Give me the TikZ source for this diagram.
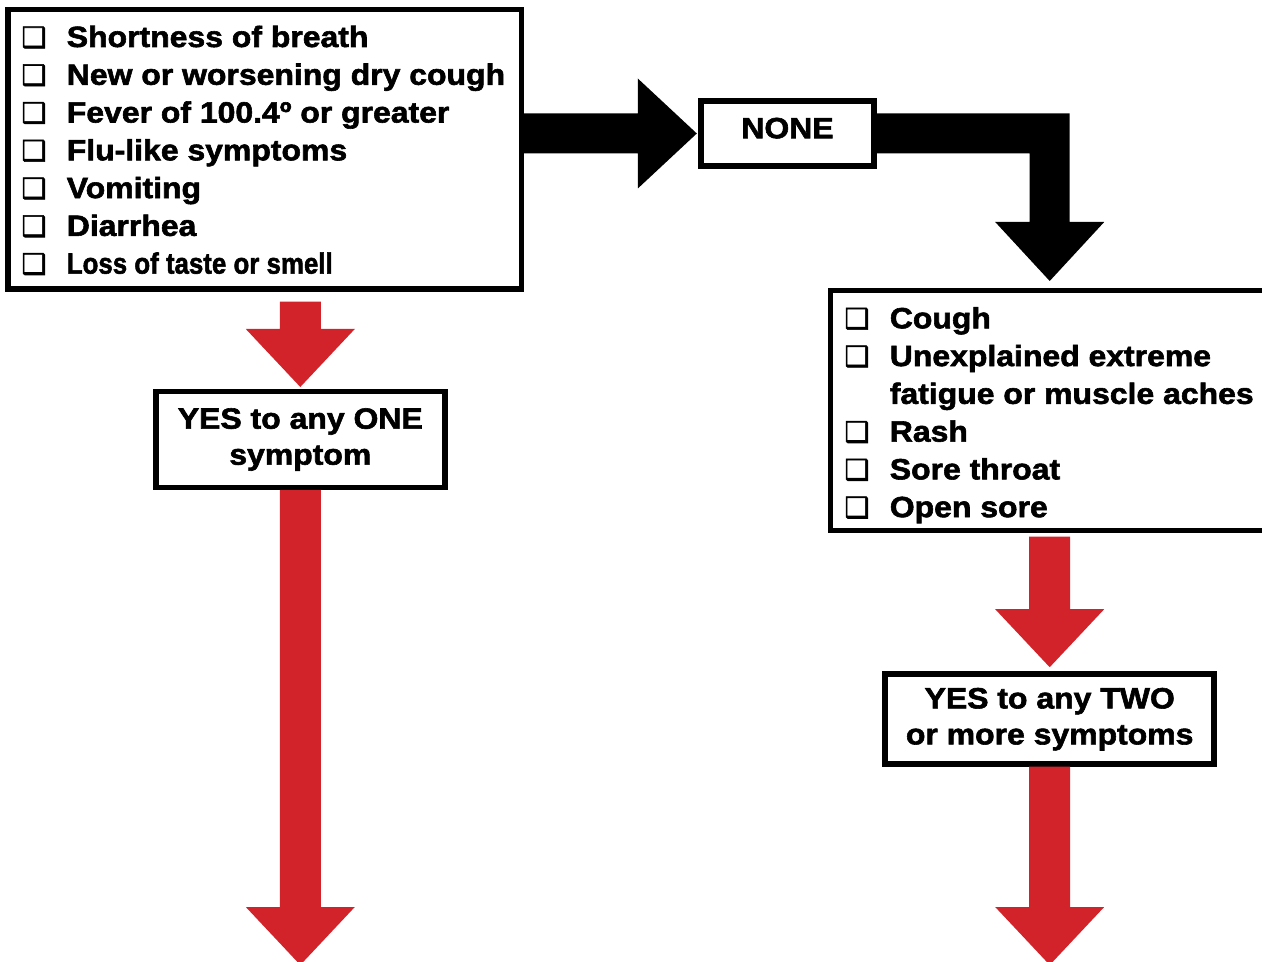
\documentclass[tikz,border=0pt]{standalone}
\usepackage{graphicx}
\usepackage{fontspec}
\setmainfont{Liberation Sans}[FakeStretch=1.09, BoldFont={Liberation Sans Bold}, BoldFeatures={FakeBold=2}]
\newfontfamily\dingfont{DejaVu Sans Bold}[FakeBold=2]
\usetikzlibrary{calc}

\definecolor{yesred}{RGB}{210,35,42}
\newcommand{\cbox}{\makebox[21.7pt][l]{\hspace*{-1pt}\dingfont\fontsize{14}{14}\selectfont ❑}}
\newcommand{\blankbox}{\makebox[21.7pt][l]{}}

\tikzset{
  frame/.style={draw, line width=2.75pt, inner sep=0pt, outer sep=0pt},
  item/.style={anchor=base west, inner sep=0pt, font=\bfseries\fontsize{14.65}{18}\selectfont},
  answer/.style={frame, align=center, font=\bfseries\fontsize{14.65}{18}\selectfont},
}

\begin{document}
\begin{tikzpicture}[x=0.5pt,y=-0.5pt]
  \useasboundingbox (0,0) rectangle (1262,962);
  \clip (0,0) rectangle (1262,962);
  % boxes
  \node[frame, minimum width=256.75pt, minimum height=139.75pt] (main) at (264.5,149.5) {};
  \node[answer, minimum width=86.7pt, minimum height=32.7pt, text depth=5.5pt] (none) at (787.5,133.5) {NONE};
  \node[frame, anchor=north west, minimum width=222pt, minimum height=119.9pt] (more) at (830.5,290.75) {};
  \node[answer, minimum width=144.5pt, minimum height=48pt] (one) at (300.3,439.5) {YES to any ONE\\symptom};
  \node[answer, minimum width=164.5pt, minimum height=45pt] (two) at (1049.7,719.2) {YES to any TWO\\or more symptoms};
  % symptom lists
  \foreach \txt [count=\i] in {Shortness of breath, New or worsening dry cough, Fever of 100.4º or greater, Flu-like symptoms, Vomiting, Diarrhea, \scalebox{0.81}[1]{Loss of taste or smell}}
    \node[item] (s\i) at (23,{47+37.77*(\i-1)}) {\cbox\txt};
  \foreach \mk/\txt [count=\i] in {\cbox/Cough, \cbox/Unexplained extreme, \blankbox/fatigue or muscle aches, \cbox/Rash, \cbox/Sore throat, \cbox/Open sore}
    \node[item] (c\i) at (846,{328.3+37.77*(\i-1)}) {\mk\txt};
  % black arrows
  \coordinate (go) at ($(none.west)+(-4,0)$);
  \fill ($(main.east |- go)+(0,-20)$) -- ($(go)+(-59,-20)$) -- ($(go)+(-59,-55)$) -- (go) -- ($(go)+(-59,55)$) -- ($(go)+(-59,20)$) -- ($(main.east |- go)+(0,20)$) -- cycle;
  \coordinate (turn) at ($(two.north |- more.north)+(0,-9.75)$);
  \fill ($(none.east)+(0,-20)$) -- ($(none.east -| turn)+(20,-20)$) -- ($(turn)+(20,-59)$) -- ($(turn)+(54.5,-59)$) -- (turn) -- ($(turn)+(-54.5,-59)$) -- ($(turn)+(-20,-59)$) -- ($(none.east -| turn)+(-20,20)$) -- ($(none.east)+(0,20)$) -- cycle;
  % red arrows
  \coordinate (foot) at (0,965);
  \coordinate (a1) at ($(one.north |- main.south)+(0,12.5)$);
  \coordinate (b1) at ($(one.north)+(0,-4.5)$);
  \coordinate (a2) at ($(one.south)+(0,2.5)$);
  \coordinate (b2) at (one.south |- foot);
  \coordinate (a3) at ($(two.north |- more.south)+(0,6)$);
  \coordinate (b3) at ($(two.north)+(0,-7)$);
  \coordinate (a4) at ($(two.south)+(0,2.5)$);
  \coordinate (b4) at (two.south |- foot);
  \foreach \k in {1,...,4}
    \fill[yesred] ($(a\k)+(-20.5,0)$) -- ($(b\k)+(-20.5,-58)$) -- ($(b\k)+(-54.5,-58)$) -- (b\k) -- ($(b\k)+(54.5,-58)$) -- ($(b\k)+(20.5,-58)$) -- ($(a\k)+(20.5,0)$) -- cycle;
\end{tikzpicture}
\end{document}
